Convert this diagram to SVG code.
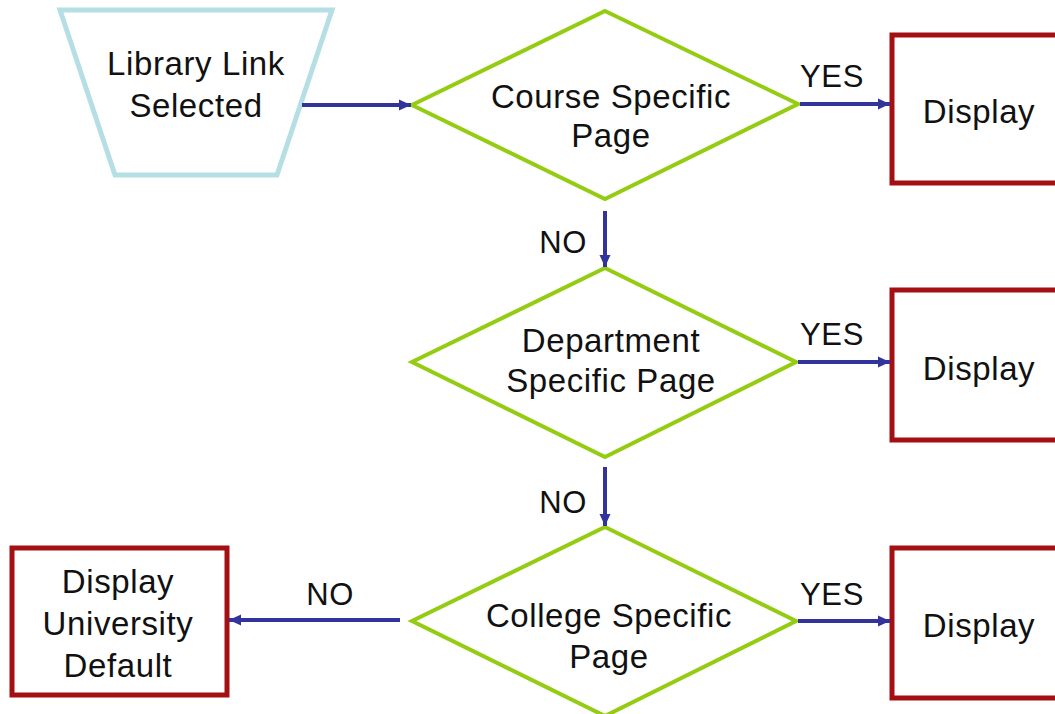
<svg xmlns="http://www.w3.org/2000/svg" width="1055" height="714" viewBox="0 0 1055 714">
<style>
text{font-family:"Liberation Sans",Arial,sans-serif;font-size:33px;fill:#111;text-anchor:middle;letter-spacing:0.6px}
.lbl{font-size:31px}
.dec{fill:#fff;stroke:#94cc12;stroke-width:4;stroke-linejoin:miter}
.box{fill:#fff;stroke:#a30f12;stroke-width:5}
.start{fill:#fff;stroke:#b6dfe5;stroke-width:5}
.con{stroke:#33339c;stroke-width:4;fill:none}
</style>
<defs>
<marker id="ah" markerUnits="userSpaceOnUse" markerWidth="14" markerHeight="14" viewBox="0 0 14 14" refX="12" refY="7" orient="auto">
<path d="M0,1.5 L12,7 L0,12.5 Z" fill="#33339c"/>
</marker>
</defs>
<rect width="1055" height="714" fill="#fff"/>
<g id="start">
<polygon class="start" points="60,10 332,10 277,175 115,175"/>
<text x="196" y="75">Library Link</text>
<text x="196" y="117">Selected</text>
</g>
<g id="course">
<polygon class="dec" points="605,11 798,104 605,199 412,105"/>
<text x="611" y="108">Course Specific</text>
<text x="611" y="147">Page</text>
</g>
<g id="department">
<polygon class="dec" points="605,268 796,362 605,457 412,362"/>
<text x="611" y="352">Department</text>
<text x="611" y="392">Specific Page</text>
</g>
<g id="college">
<polygon class="dec" points="605,527 796,621 605,716 412,621"/>
<text x="609" y="627">College Specific</text>
<text x="609" y="668">Page</text>
</g>
<g id="display1">
<rect class="box" x="892" y="35" width="170" height="148"/>
<text x="979" y="123">Display</text>
</g>
<g id="display2">
<rect class="box" x="892" y="290" width="170" height="150"/>
<text x="979" y="380">Display</text>
</g>
<g id="display3">
<rect class="box" x="892" y="548" width="170" height="150"/>
<text x="979" y="637">Display</text>
</g>
<g id="default">
<rect class="box" x="12" y="548" width="215" height="147"/>
<text x="118" y="593">Display</text>
<text x="118" y="635">University</text>
<text x="118" y="677">Default</text>
</g>
<g id="connectors">
<line class="con" x1="302" y1="105" x2="411" y2="105" marker-end="url(#ah)"/>
<line class="con" x1="800" y1="104" x2="890" y2="104" marker-end="url(#ah)"/>
<line class="con" x1="798" y1="362" x2="890" y2="362" marker-end="url(#ah)"/>
<line class="con" x1="798" y1="621" x2="890" y2="621" marker-end="url(#ah)"/>
<line class="con" x1="605" y1="211" x2="605" y2="267" marker-end="url(#ah)"/>
<line class="con" x1="605" y1="467" x2="605" y2="526" marker-end="url(#ah)"/>
<line class="con" x1="400" y1="620" x2="229" y2="620" marker-end="url(#ah)"/>
<text class="lbl" x="832" y="87">YES</text>
<text class="lbl" x="832" y="345">YES</text>
<text class="lbl" x="832" y="605">YES</text>
<text class="lbl" x="563" y="253">NO</text>
<text class="lbl" x="563" y="513">NO</text>
<text class="lbl" x="330" y="605">NO</text>
</g>
</svg>
